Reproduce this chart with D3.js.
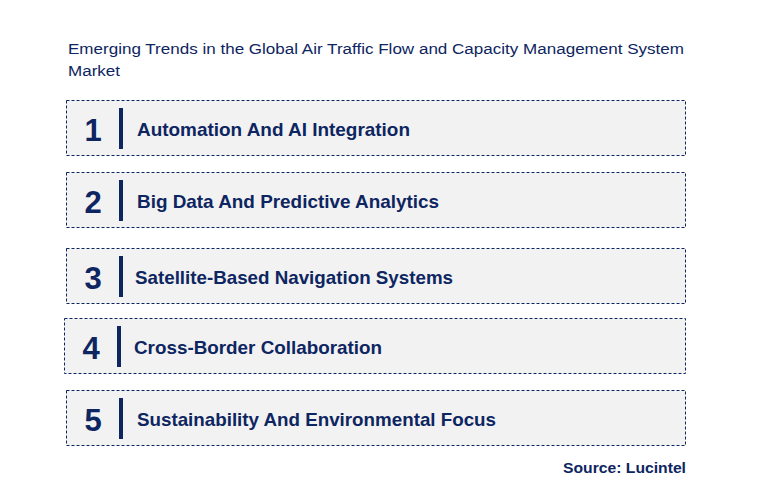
<!DOCTYPE html><html><head><meta charset="utf-8">
<script src="https://cdn.jsdelivr.net/npm/d3@7"></script>
<style>body{margin:0;background:#fff}</style></head><body>
<svg id="c" width="776" height="501"></svg>
<script>
const numbers = ["1","2","3","4","5"];
const trends = ["Automation And AI Integration","Big Data And Predictive Analytics","Satellite-Based Navigation Systems","Cross-Border Collaboration","Sustainability And Environmental Focus"];
const boxTops = [100,172,248,318,390];
const boxLefts = [66,66,66,64,66];
const textX = [137,137,135,134,137];
const textEnd = [410,439,453,382,496];
const barX = [121,121,121,119,121];
const svg = d3.select("#c");
const navy = "#0d2561";
const F = "Arial, Liberation Sans";
svg.append("text").attr("x",68).attr("y",54).attr("font-family",F).attr("font-size",15.5).attr("fill",navy).attr("textLength",616).attr("lengthAdjust","spacingAndGlyphs").text("Emerging Trends in the Global Air Traffic Flow and Capacity Management System");
svg.append("text").attr("x",68).attr("y",76).attr("font-family",F).attr("font-size",15.5).attr("fill",navy).attr("textLength",52).attr("lengthAdjust","spacingAndGlyphs").text("Market");
const g = svg.selectAll("g.row").data(trends).join("g");
g.append("rect").attr("x",(d,i)=>boxLefts[i]+0.5).attr("y",(d,i)=>boxTops[i]+0.5).attr("width",(d,i)=>685-boxLefts[i]).attr("height",55)
 .attr("fill","#f2f2f2").attr("stroke",navy).attr("stroke-width",1).attr("stroke-dasharray","3,2");
g.append("text").attr("x",(d,i)=>boxLefts[i]+27).attr("y",(d,i)=>boxTops[i]+41).attr("font-family",F).attr("font-weight","bold").attr("font-size",31).attr("fill",navy).attr("text-anchor","middle").text((d,i)=>numbers[i]);
g.append("rect").attr("x",(d,i)=>barX[i]-2).attr("y",(d,i)=>boxTops[i]+8).attr("width",4).attr("height",41).attr("fill",navy);
g.append("text").attr("x",(d,i)=>textX[i]).attr("y",(d,i)=>boxTops[i]+36).attr("font-family",F).attr("font-weight","bold").attr("font-size",18.5).attr("fill",navy)
 .attr("textLength",(d,i)=>textEnd[i]-textX[i]).attr("lengthAdjust","spacingAndGlyphs").text(d=>d);
svg.append("text").attr("x",563).attr("y",473).attr("font-family",F).attr("font-weight","bold").attr("font-size",15).attr("fill",navy).attr("textLength",123).attr("lengthAdjust","spacingAndGlyphs").text("Source: Lucintel");
</script></body></html>
